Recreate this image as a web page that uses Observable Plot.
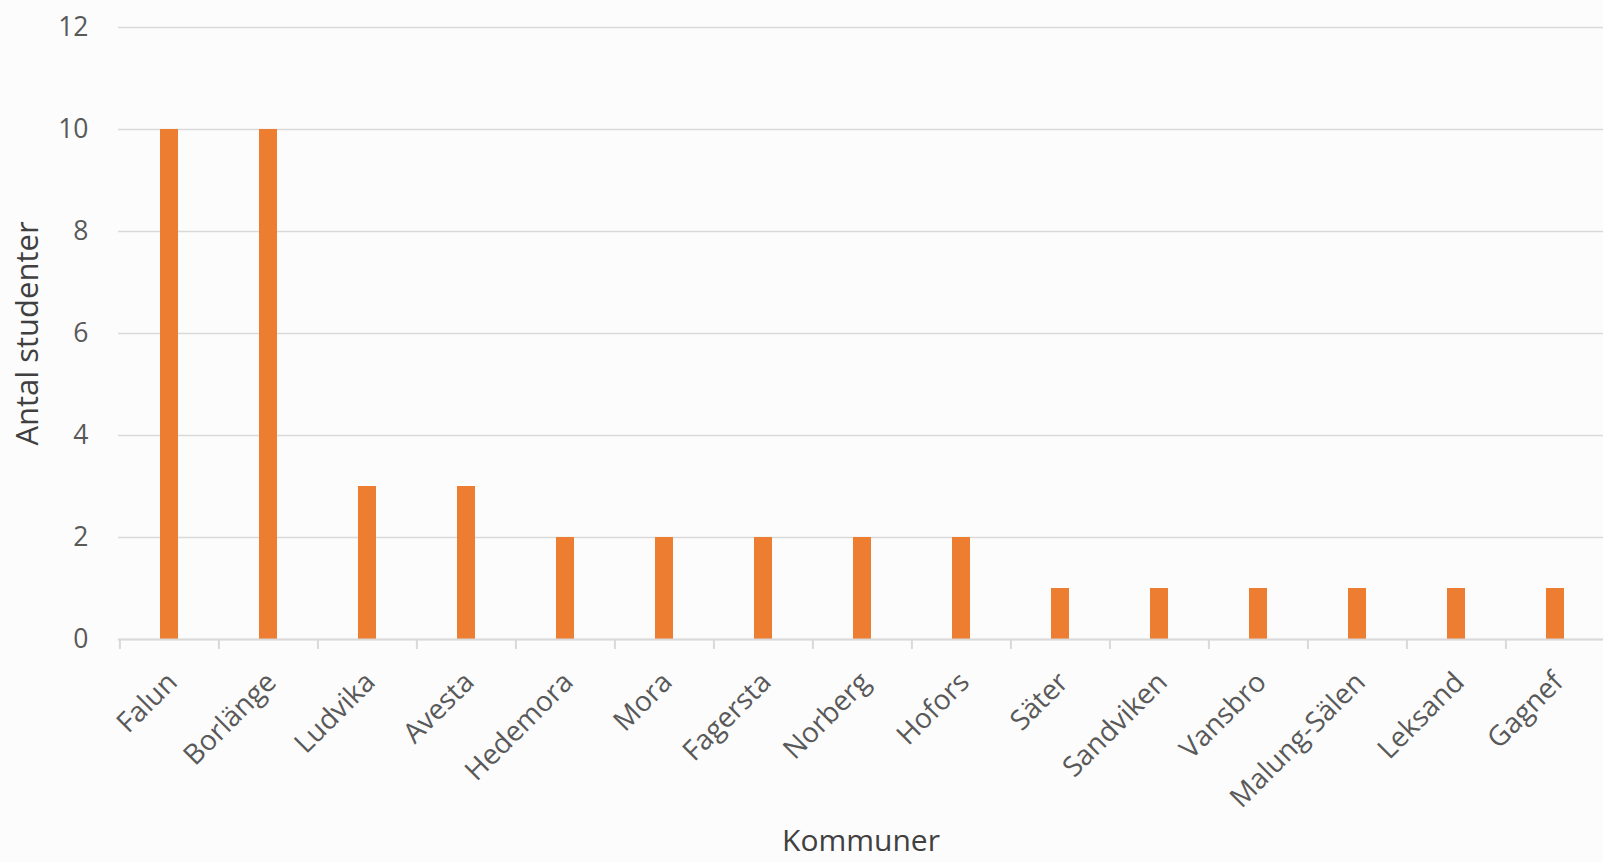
<!DOCTYPE html>
<html><head><meta charset="utf-8">
<script src="https://cdn.jsdelivr.net/npm/d3@7"></script>
<script src="https://cdn.jsdelivr.net/npm/@observablehq/plot@0.6"></script>
<style>html,body{margin:0;padding:0;background:#fcfcfc;overflow:hidden}</style>
</head><body><div id="chart"></div>
<script>
const kommuner = ["Falun","Borlänge","Ludvika","Avesta","Hedemora","Mora","Fagersta","Norberg","Hofors","Säter","Sandviken","Vansbro","Malung-Sälen","Leksand","Gagnef"];
const antal = [10,10,3,3,2,2,2,2,2,1,1,1,1,1,1];
const yTicks = [0,2,4,6,8,10,12];
const xTitle = "Kommuner";
const yTitle = "Antal studenter";

const data = kommuner.map((k, i) => ({k, v: antal[i]}));
const W = 1603, H = 862, x0 = 118, x1 = 1606;
const step = (x1 - x0) / kommuner.length;

const chart = Plot.plot({
  width: W, height: H,
  marginTop: 27, marginBottom: 223, marginLeft: 118, marginRight: 0,
  style: {fontFamily: "'Open Sans', sans-serif", background: "transparent", color: "#595959", fontSize: "25px", overflow: "hidden"},
  x: {domain: kommuner, range: [x0, x1], paddingInner: 0.82, paddingOuter: 0.41, align: 0.5},
  y: {domain: [0, 12]},
  marks: [
    Plot.gridY(yTicks, {stroke: "#d9d9d9", strokeOpacity: 1, strokeWidth: 1.5}),
    Plot.barY(data, {x: "k", y: "v", fill: "#ED7D31"}),
    Plot.ruleY([0], {stroke: "#d9d9d9", strokeWidth: 2}),
    Plot.axisY(yTicks, {tickSize: 0, tickPadding: 30, tickFormat: d3.format("d"), fontSize: 26.5, fill: "#595959", label: null}),
    Plot.axisX({tickSize: 10, tickFormat: () => "", dx: -step / 2, stroke: "#d9d9d9", strokeWidth: 2, label: null}),
    Plot.axisX({tickSize: 0, tickRotate: -45, tickPadding: 38, dx: 3, fontSize: 28, fill: "#595959", label: null}),
    Plot.text([xTitle], {frameAnchor: "bottom", dy: 211, fontSize: 30, fill: "#404040"}),
    Plot.text([yTitle], {frameAnchor: "left", textAnchor: "middle", rotate: -90, dx: -90, fontSize: 31, fill: "#404040"})
  ]
});
document.getElementById("chart").appendChild(chart);
</script>
</body></html>
